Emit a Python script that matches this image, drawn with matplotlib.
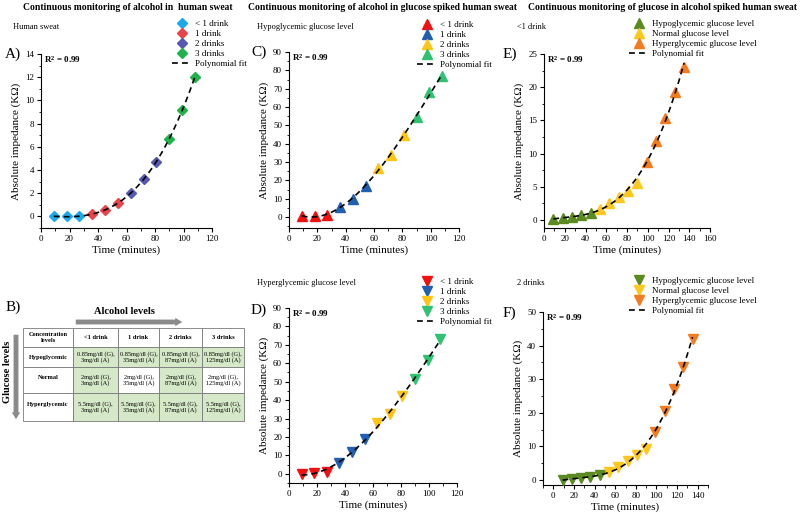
import numpy as np
import matplotlib.pyplot as plt
from matplotlib.ticker import AutoMinorLocator, MultipleLocator

plt.rcParams['font.family'] = ['Liberation Serif', 'DejaVu Serif']
plt.rcParams['mathtext.fontset'] = 'custom'
plt.rcParams['mathtext.rm'] = 'Liberation Serif'
plt.rcParams['mathtext.bf'] = 'Liberation Serif:bold'

# ---- data ----
time_12 = [9, 18, 27, 36, 45, 54, 63, 72, 81, 90, 99, 108]
time_15 = [9, 18, 27, 36, 45, 54, 63, 72, 81, 90, 99, 108, 117, 126, 135]

drink_labels = ['< 1 drink', '1 drink', '2 drinks', '3 drinks']
glucose_labels = ['Hypoglycemic glucose level', 'Normal glucose level',
                  'Hyperglycemic glucose level']

imp_a = [0, 0, 0, 0.2, 0.55, 1.15, 2.05, 3.2, 4.7, 6.65, 9.2, 12.0]
imp_c = [0.3, 0.8, 1.2, 5.5, 10, 17, 26.5, 34, 44.5, 54.5, 68, 77]
imp_d = [0, 0.3, 1.0, 6, 12, 19, 27.5, 32.5, 42, 51.5, 62, 73]
imp_e = [0.1, 0.3, 0.5, 0.8, 1.1, 1.7, 2.5, 3.4, 4.4, 5.6, 8.7, 11.9, 15.4, 19.3, 23.1]
imp_f = [0, 0.2, 0.5, 1.0, 1.5, 2.5, 3.8, 5.5, 7.5, 9.3, 14.3, 20.6, 27, 33.7, 42]

col_a = ['#1aa9ec', '#e8444c', '#5659b2', '#21b24c']
col_cd = ['#f01010', '#2160b0', '#ffc414', '#2fc272']
col_ef = ['#5b8b20', '#ffc81e', '#f57b20']

# table B
tab_cols = ['Concentration\nlevels', '<1 drink', '1 drink', '2 drinks', '3 drinks']
tab_rows = ['Hypoglycemic', 'Normal', 'Hyperglycemic']
glu_conc = ['0.85mg/dl (G),', '2mg/dl (G),', '5.5mg/dl (G),']
alc_conc = ['3mg/dl (A)', '35mg/dl (A)', '87mg/dl (A)', '125mg/dl (A)']
green_cells = [[1, 1, 1, 1], [1, 0, 1, 0], [1, 1, 1, 1]]

W, H = 800, 515
fig = plt.figure(figsize=(8, 5.15), dpi=100)


def px_axes(l, t, r, b):
    return fig.add_axes([l / W, 1 - b / H, (r - l) / W, (b - t) / H])


def style(ax, xlim, ylim, xmaj, ymaj):
    ax.set_xlim(*xlim)
    ax.set_ylim(*ylim)
    ax.xaxis.set_major_locator(MultipleLocator(xmaj))
    ax.yaxis.set_major_locator(MultipleLocator(ymaj))
    ax.xaxis.set_minor_locator(AutoMinorLocator(2))
    ax.yaxis.set_minor_locator(AutoMinorLocator(2))
    for s in ['top', 'right']:
        ax.spines[s].set_visible(False)
    for s in ['left', 'bottom']:
        ax.spines[s].set_linewidth(0.8)
    ax.tick_params(which='major', direction='out', length=3, width=0.8, labelsize=6.5, pad=2)
    ax.tick_params(which='minor', direction='out', length=1.8, width=0.6)
    ax.set_xlabel('Time (minutes)', fontsize=8, labelpad=2)
    ax.set_ylabel('Absolute impedance (K\u03a9)', fontsize=8, labelpad=3)
    ax.text(0.02, 1.0, r'$\mathbf{R^2}$ = 0.99', transform=ax.transAxes,
            fontsize=6.5, fontweight='bold', va='top', ha='left')


def draw(ax, t, y, groups, colors, labels, marker, ms):
    handles = []
    i = 0
    for n, c, lab in zip(groups, colors, labels):
        h, = ax.plot(t[i:i + n], y[i:i + n], ls='none', marker=marker, ms=ms,
                     color=c, mec=c, label=lab, zorder=3)
        handles.append(h)
        i += n
    coef = np.polyfit(t, y, 3)
    xs = np.linspace(t[0], t[-1], 200)
    f, = ax.plot(xs, np.polyval(coef, xs), color='black', lw=1.2,
                 ls=(0, (3.5, 2.5)), label='Polynomial fit', zorder=4)
    handles.append(f)
    return handles


def legend(ax, handles, x, y):
    ax.legend(handles=handles, loc='upper left', bbox_to_anchor=(x / W, 1 - y / H),
              bbox_transform=fig.transFigure, frameon=False, fontsize=6.5,
              handlelength=2.2, handletextpad=0.35, labelspacing=0.18,
              borderpad=0, borderaxespad=0)


# A
ax_a = px_axes(41, 54, 212, 228)
h = draw(ax_a, time_12, imp_a, [3, 3, 3, 3], col_a, drink_labels, 'D', 5.5)
style(ax_a, (0, 120), (-1, 14), 20, 2)
legend(ax_a, h, 172, 20)

# C
ax_c = px_axes(289, 52, 459, 228)
h = draw(ax_c, time_12, imp_c, [3, 3, 3, 3], col_cd, drink_labels, '^', 6.5)
style(ax_c, (0, 120), (-6, 90), 20, 10)
legend(ax_c, h, 417, 21)

# E
ax_e = px_axes(544, 54, 710, 228)
h = draw(ax_e, time_15, imp_e, [5, 5, 5], col_ef, glucose_labels, '^', 6.5)
style(ax_e, (0, 160), (-1.2, 25), 20, 5)
legend(ax_e, h, 629, 20)

# D
ax_d = px_axes(289, 308, 457, 483)
h = draw(ax_d, time_12, imp_d, [3, 3, 3, 3], col_cd, drink_labels, 'v', 6.5)
style(ax_d, (0, 120), (-5, 90), 20, 10)
legend(ax_d, h, 417, 278)

# F
ax_f = px_axes(543, 312, 708, 485)
h = draw(ax_f, time_15, imp_f, [5, 5, 5], col_ef, glucose_labels, 'v', 6.5)
style(ax_f, (-10, 150), (-1.5, 50), 20, 10)
legend(ax_f, h, 629, 277)


# titles and sub titles
def ftxt(x, y, s, **kw):
    fig.text(x / W, 1 - y / H, s, **kw)


ftxt(128, 8, 'Continuous monitoring of alcohol in  human sweat', fontsize=6.9,
     fontweight='bold', ha='center', va='center')
ftxt(382, 8, 'Continuous monitoring of alcohol in glucose spiked human sweat', fontsize=6.9,
     fontweight='bold', ha='center', va='center')
ftxt(662, 8, 'Continuous monitoring of glucose in alcohol spiked human sweat', fontsize=6.9,
     fontweight='bold', ha='center', va='center')
ftxt(13, 27, 'Human sweat', fontsize=6, va='center')
ftxt(257, 27, 'Hypoglycemic glucose level', fontsize=6, va='center')
ftxt(517, 27, '<1 drink', fontsize=6, va='center')
ftxt(257, 283, 'Hyperglycemic glucose level', fontsize=6, va='center')
ftxt(517, 283, '2 drinks', fontsize=6, va='center')
panel_tags = [('A)', 5, 54), ('C)', 251, 52), ('E)', 503, 54),
              ('B)', 6, 307), ('D)', 251, 310), ('F)', 503, 313)]
for lab, x, y in panel_tags:
    ftxt(x, y, lab, fontsize=11, va='center')

# table B
ax_t = px_axes(23, 328, 244, 421)
ax_t.axis('off')
cell_text = [list(tab_cols)]
cell_col = [['white'] * 5]
for r, rname in enumerate(tab_rows):
    pad = '' if r == 0 else '\n '
    row = [rname + pad]
    cols = ['white']
    for c in range(4):
        row.append(glu_conc[r] + '\n' + alc_conc[c])
        cols.append('#d5e8c8' if green_cells[r][c] else 'white')
    cell_text.append(row)
    cell_col.append(cols)
col_w = [50, 45, 41, 43, 42]
row_h = [19, 20, 26, 28]
tb = ax_t.table(cellText=cell_text, cellColours=cell_col, cellLoc='center',
                colWidths=[w / sum(col_w) for w in col_w], bbox=[0, 0, 1, 1])
tb.auto_set_font_size(False)
for (r, c), cell in tb.get_celld().items():
    cell.set_height(row_h[r] / sum(row_h))
    cell.set_edgecolor('#7a7a7a')
    cell.set_linewidth(0.6)
    cell.get_text().set_fontsize(4.6)
    cell.PAD = 0.02
    if r == 0 or c == 0:
        cell.get_text().set_fontweight('bold')

# overlay for arrows of table
ov = fig.add_axes([0, 0, 1, 1], zorder=-1)
ov.set_xlim(0, W)
ov.set_ylim(H, 0)
ov.axis('off')
arrow_style = 'simple,head_length=0.5,head_width=0.6,tail_width=0.35'
ov.annotate('', xy=(185, 322), xytext=(73, 322),
            arrowprops=dict(arrowstyle=arrow_style, color='#8a8a8a', lw=0))
ov.annotate('', xy=(16, 422), xytext=(16, 332),
            arrowprops=dict(arrowstyle=arrow_style, color='#8a8a8a', lw=0))
ftxt(124, 312, 'Alcohol levels', fontsize=7.5, fontweight='bold', ha='center', va='center')
fig.text(8 / W, 1 - 372 / H, 'Glucose levels', fontsize=7.5, fontweight='bold',
         rotation=90, ha='center', va='center')

fig.savefig('out.png', dpi=100)
